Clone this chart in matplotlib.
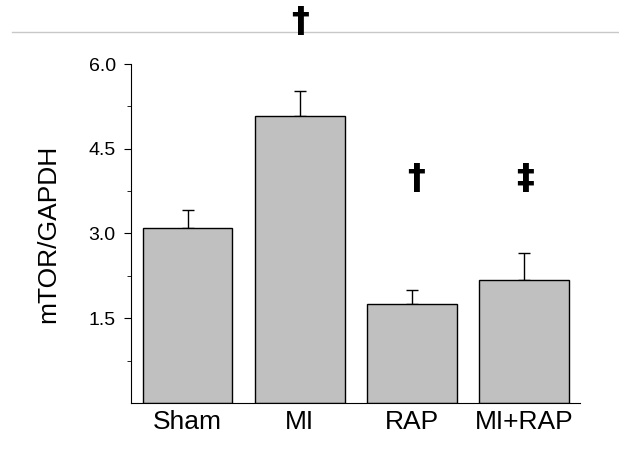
import matplotlib
matplotlib.use("Agg")
import matplotlib.pyplot as plt
from matplotlib.lines import Line2D

groups = ["Sham", "MI", "RAP", "MI+RAP"]
means = [3.10, 5.08, 1.75, 2.18]
errs = [0.32, 0.44, 0.25, 0.47]
marks = ["", "\u2020", "\u2020", "\u2021"]
mark_y = [None, 6.74, 3.96, 3.97]
mark_dx = [0, 0.0, 0.04, 0.01]

plt.rcParams['font.family'] = ['Liberation Sans', 'DejaVu Sans']

fig = plt.figure(figsize=(6.19, 4.72), dpi=100)
ax = fig.add_axes([0.2116, 0.1462, 0.7254, 0.7182])

x = range(len(groups))
ax.bar(x, means, width=0.8, color='#c0c0c0', edgecolor='black', linewidth=1.0, zorder=2)
ax.errorbar(x, means, yerr=[[0] * len(errs), errs], fmt='none', ecolor='black',
            elinewidth=1.0, capsize=4, capthick=1.0, zorder=1)

# significance marks
for i, (m, yy, dx) in enumerate(zip(marks, mark_y, mark_dx)):
    if m:
        ax.text(i + dx, yy, m, ha='center', va='center', fontsize=26,
                fontweight='bold', family=['DejaVu Sans'], clip_on=False)

ax.set_xlim(-0.504, 3.5)
ax.set_ylim(0, 6.0)
ax.set_yticks([1.5, 3.0, 4.5, 6.0])
ax.set_yticklabels(['1.5', '3.0', '4.5', '6.0'], fontsize=14)
ax.set_yticks([0.75, 2.25, 3.75, 5.25], minor=True)
ax.set_xticks(list(x))
ax.set_xticklabels(groups, fontsize=19)
ax.tick_params(axis='x', length=0, pad=5)
ax.tick_params(axis='y', which='major', length=5, direction='out', pad=6)
ax.tick_params(axis='y', which='minor', length=3, direction='out')
ax.spines['top'].set_visible(False)
ax.spines['right'].set_visible(False)
ax.set_ylabel('mTOR/GAPDH', fontsize=19, labelpad=20)

# thin grey rule across the top, behind the marks
fig.add_artist(Line2D([12 / 619, 1.0], [1 - 32 / 472, 1 - 32 / 472],
                      color='#c8c8c8', linewidth=1.0, transform=fig.transFigure,
                      zorder=-1))

fig.savefig('out.png', dpi=100)
